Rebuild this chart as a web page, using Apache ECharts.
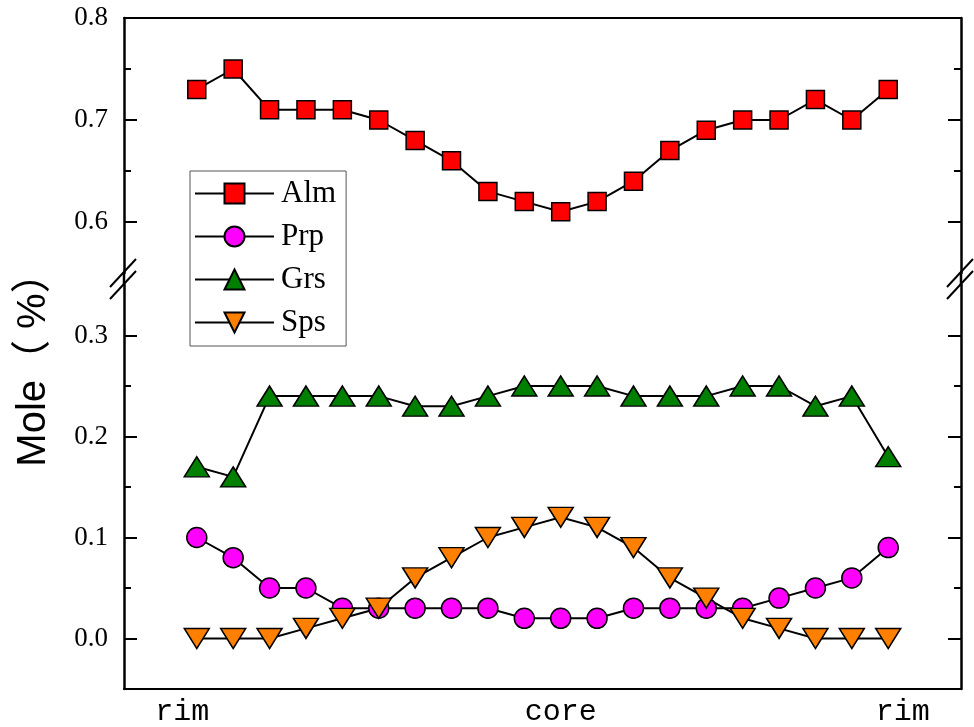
<!DOCTYPE html>
<html><head><meta charset="utf-8">
<script src="https://cdn.jsdelivr.net/npm/echarts@6/dist/echarts.min.js"></script>
<style>html,body{margin:0;padding:0;background:#fff}#c{width:974px;height:727px}</style>
</head><body><div id="c"></div>
<script>
const positions = [1,2,3,4,5,6,7,8,9,10,11,12,13,14,15,16,17,18,19,20];
const alm = [0.73,0.75,0.71,0.71,0.71,0.70,0.68,0.66,0.63,0.62,0.61,0.62,0.64,0.67,0.69,0.70,0.70,0.72,0.70,0.73];
const prp = [0.10,0.08,0.05,0.05,0.03,0.03,0.03,0.03,0.03,0.02,0.02,0.02,0.03,0.03,0.03,0.03,0.04,0.05,0.06,0.09];
const grs = [0.17,0.16,0.24,0.24,0.24,0.24,0.23,0.23,0.24,0.25,0.25,0.25,0.24,0.24,0.24,0.25,0.25,0.23,0.24,0.18];
const sps = [0.00,0.00,0.00,0.01,0.02,0.03,0.06,0.08,0.10,0.11,0.12,0.11,0.09,0.06,0.04,0.02,0.01,0.00,0.00,0.00];
const xTickValues = [0.6, 11, 20.4];
const xTickLabels = ['rim', 'core', 'rim'];
const upperRange = [0.55, 0.8];
const lowerRange = [-0.05, 0.35];
const upperMajor = [0.6, 0.7, 0.8];
const upperMinor = [0.65, 0.75];
const lowerMajor = [0.0, 0.1, 0.2, 0.3];
const lowerMinor = [0.05, 0.15, 0.25];
const xRange = [-1, 22];

const AX = '#000';
function yAxes(gridIndex, range, major, minor) {
  const base = {gridIndex, type: 'value', min: range[0], max: range[1], splitLine: {show: false}};
  return [
    Object.assign({}, base, {
      position: 'left',
      axisLine: {show: true, onZero: false, lineStyle: {color: AX, width: 2.5}},
      axisTick: {show: true, inside: true, length: 13, lineStyle: {color: AX, width: 2}, customValues: major},
      axisLabel: {show: true, customValues: major, formatter: v => Number(v).toFixed(1), margin: 16,
        color: '#000', fontFamily: 'Liberation Serif', fontSize: 27, padding: [10, 0, 0, 0]}
    }),
    Object.assign({}, base, {
      position: 'left',
      axisLine: {show: false, onZero: false},
      axisTick: {show: true, inside: true, length: 7, lineStyle: {color: AX, width: 2}, customValues: minor},
      axisLabel: {show: false}
    }),
    Object.assign({}, base, {
      position: 'right',
      axisLine: {show: true, onZero: false, lineStyle: {color: AX, width: 2.5}},
      axisTick: {show: true, inside: true, length: 13, lineStyle: {color: AX, width: 2}, customValues: major},
      axisLabel: {show: false}
    }),
    Object.assign({}, base, {
      position: 'right',
      axisLine: {show: false, onZero: false},
      axisTick: {show: true, inside: true, length: 7, lineStyle: {color: AX, width: 2}, customValues: minor},
      axisLabel: {show: false}
    })
  ];
}

const pts = arr => positions.map((x, i) => [x, arr[i]]);
const lineStyle = {color: '#000', width: 2};
function mk(name, data, xi, yi, color, symbol, size, rot) {
  return {
    name, type: 'line', xAxisIndex: xi, yAxisIndex: yi, data: pts(data),
    symbol, symbolSize: size, symbolRotate: rot || 0, showAllSymbol: true,
    lineStyle, itemStyle: {color, borderColor: '#000', borderWidth: 1.5},
    emphasis: {disabled: true}, z: 3
  };
}

const chart = echarts.init(document.getElementById('c'), null, {renderer: 'canvas'});
chart.setOption({
  animation: false,
  backgroundColor: '#fff',
  grid: [
    {left: 124, width: 837, top: 18, height: 255},
    {left: 124, width: 837, top: 285, height: 407}
  ],
  xAxis: [
    {gridIndex: 0, type: 'value', position: 'top', min: xRange[0], max: xRange[1],
     axisLine: {show: true, onZero: false, lineStyle: {color: AX, width: 2}}, axisTick: {show: false},
     axisLabel: {show: false}, splitLine: {show: false}},
    {gridIndex: 1, type: 'value', position: 'bottom', min: xRange[0], max: xRange[1],
     axisLine: {show: true, onZero: false, lineStyle: {color: AX, width: 2}}, axisTick: {show: false},
     axisLabel: {show: true, customValues: xTickValues, margin: 8, color: '#000',
       fontFamily: 'Liberation Mono', fontSize: 30,
       formatter: v => {
         let best = 0;
         xTickValues.forEach((t, i) => { if (Math.abs(t - v) < Math.abs(xTickValues[best] - v)) best = i; });
         return xTickLabels[best];
       }},
     splitLine: {show: false}}
  ],
  yAxis: [].concat(yAxes(0, upperRange, upperMajor, upperMinor), yAxes(1, lowerRange, lowerMajor, lowerMinor)),
  legend: {
    orient: 'vertical', left: 190, top: 171,
    data: ['Alm', 'Prp', 'Grs', 'Sps'],
    backgroundColor: '#fff', borderColor: '#555', borderWidth: 1,
    padding: [7, 10, 8, 4], itemGap: 12, itemWidth: 79, itemHeight: 25,
    textStyle: {fontFamily: 'Liberation Serif', fontSize: 31, color: '#000', padding: [0, 0, 0, 2]}
  },
  series: [
    mk('Alm', alm, 0, 0, '#ff0000', 'rect', 18),
    mk('Prp', prp, 1, 4, '#ff00ff', 'circle', 20),
    mk('Grs', grs, 1, 4, '#008000', 'triangle', [25, 20]),
    mk('Sps', sps, 1, 4, '#ff8000', 'triangle', [25, 20], 180)
  ],
  graphic: [
    {type: 'line', shape: {x1: 124, y1: 272, x2: 124, y2: 286}, style: {stroke: '#000', lineWidth: 2.5}},
    {type: 'line', shape: {x1: 961, y1: 272, x2: 961, y2: 286}, style: {stroke: '#000', lineWidth: 2.5}},
    {type: 'line', shape: {x1: 136, y1: 259, x2: 110, y2: 287}, style: {stroke: '#000', lineWidth: 2}},
    {type: 'line', shape: {x1: 136, y1: 271, x2: 110, y2: 299}, style: {stroke: '#000', lineWidth: 2}},
    {type: 'line', shape: {x1: 973, y1: 259, x2: 947, y2: 287}, style: {stroke: '#000', lineWidth: 2}},
    {type: 'line', shape: {x1: 973, y1: 271, x2: 947, y2: 299}, style: {stroke: '#000', lineWidth: 2}},
    {type: 'text', x: 34, y: 360, rotation: Math.PI / 2,
     style: {text: 'Mole（ %）', fontFamily: 'Liberation Sans, Noto Sans CJK SC', fontSize: 40,
       fill: '#000', align: 'center', verticalAlign: 'middle'}}
  ]
});
</script>
</body></html>
